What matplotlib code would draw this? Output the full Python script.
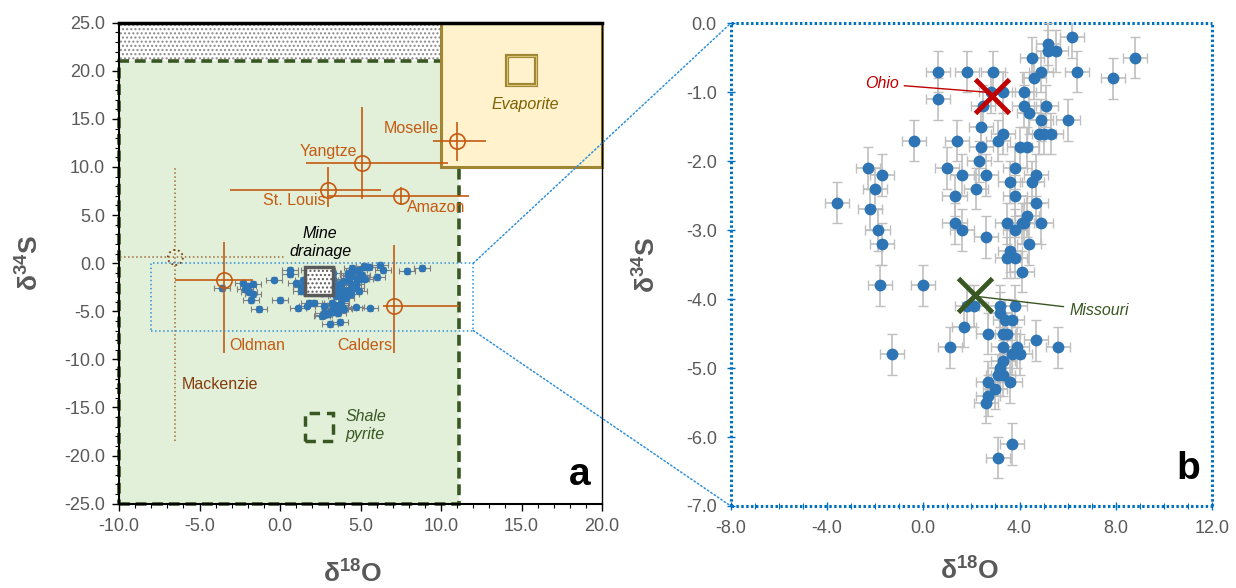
import matplotlib
matplotlib.use('Agg')
import matplotlib.pyplot as plt
from matplotlib.patches import Rectangle, Ellipse, ConnectionPatch
from matplotlib.ticker import MultipleLocator, FormatStrFormatter

plt.rcParams['font.family'] = ['Liberation Sans', 'DejaVu Sans']
plt.rcParams['mathtext.fontset'] = 'custom'
plt.rcParams['mathtext.rm'] = 'Liberation Sans'
plt.rcParams['mathtext.bf'] = 'Liberation Sans:bold'
plt.rcParams['mathtext.it'] = 'Liberation Sans:italic'
plt.rcParams['axes.unicode_minus'] = False

# --- mine drainage samples (same points in both panels) ---
d18o = [6.2, 5.2, 5.2, 5.5, 4.5, 8.8, 0.6, 1.8, 2.9, 4.9, 6.4, 4.6, 7.9,
        2.8, 3.3, 4.2, 0.6, 2.5, 4.2, 5.1, 4.4, 4.9, 6.0, 2.4, 3.3, 4.8,
        5.0, 5.3, -0.4, 1.4, 3.1, 2.4, 4.0, 4.3, 2.3, -2.3, 1.0, 3.8, -1.7,
        1.6, 2.6, 4.7, 3.6, 4.5, -2.0, 2.2, 1.3, 3.8, -3.6, 4.7, -2.2, 4.3,
        1.3, 3.5, 4.1, 4.2, 4.9, -1.9, 1.6, 3.8, 2.6, -1.7, 4.4, 3.6, 3.5,
        3.8, 4.1, -1.8, 0.0, 1.8, 2.1, 3.2, 3.8, 3.2, 3.4, 3.7, 1.7, 2.7,
        3.3, 3.5, 4.7, 1.1, 3.3, 3.9, 5.6, -1.3, 3.7, 4.0, 3.3, 3.2, 3.1,
        3.3, 2.7, 3.6, 3.0, 2.7, 2.6, 3.7, 3.1]
d34s = [-0.2, -0.3, -0.4, -0.4, -0.5, -0.5, -0.7, -0.7, -0.7, -0.7, -0.7,
        -0.8, -0.8, -1.0, -1.0, -1.0, -1.1, -1.2, -1.2, -1.2, -1.3, -1.4,
        -1.4, -1.5, -1.6, -1.6, -1.6, -1.6, -1.7, -1.7, -1.7, -1.8, -1.8,
        -1.8, -2.0, -2.1, -2.1, -2.1, -2.2, -2.2, -2.2, -2.2, -2.3, -2.3,
        -2.4, -2.4, -2.5, -2.5, -2.6, -2.6, -2.7, -2.8, -2.9, -2.9, -2.9,
        -2.9, -2.9, -3.0, -3.0, -3.0, -3.1, -3.2, -3.2, -3.3, -3.4, -3.4,
        -3.6, -3.8, -3.8, -4.1, -4.1, -4.1, -4.1, -4.2, -4.3, -4.3, -4.4,
        -4.5, -4.5, -4.5, -4.6, -4.7, -4.7, -4.7, -4.7, -4.8, -4.8, -4.8,
        -4.9, -5.0, -5.1, -5.1, -5.2, -5.2, -5.3, -5.4, -5.5, -6.1, -6.3]
d18o_err = 0.5
d34s_err = 0.3

# --- river sulfate (panel a) ---
river_names = ['Moselle', 'Yangtze', 'St. Louis', 'Amazon', 'Oldman', 'Calders']
river_x = [11.0, 5.1, 3.0, 7.5, -3.5, 7.1]
river_y = [12.7, 10.4, 7.6, 7.0, -1.7, -4.4]
river_xerr_lo = [1.5, 3.5, 6.1, 4.6, 3.0, 0.7]
river_xerr_hi = [1.8, 5.35, 3.3, 4.25, 1.8, 4.0]
river_yerr_lo = [2.1, 3.7, 1.8, 0.9, 7.6, 4.9]
river_yerr_hi = [2.0, 5.8, 2.4, 0.9, 3.9, 6.3]

mack_x, mack_y = -6.5, 0.6
mack_xerr = [3.45, 6.9]
mack_yerr = [19.1, 9.3]

# --- marked rivers in panel b ---
ohio_x, ohio_y = 2.85, -1.05
missouri_x, missouri_y = 2.15, -3.94

ORANGE = '#C55A11'
GREEN = '#385723'
BLUE = '#2E75B6'
GRAY = '#595959'
ZBLUE = '#2F8FD8'

fig = plt.figure(figsize=(12.36, 5.88), dpi=100)
ax_a = fig.add_axes([0.0963, 0.1434, 0.3908, 0.818])
ax_b = fig.add_axes([0.5912, 0.1395, 0.3894, 0.8209])

b_xlim = (-8, 12)
b_ylim = (-7, 0)

# ================= panel a =================
ax_a.add_patch(Rectangle((-10, 21), 21.1, 4, facecolor='white', edgecolor='#8a8a8a',
                         hatch='....', lw=0, zorder=0.5))
ax_a.add_patch(Rectangle((-10, -25), 21.1, 46, facecolor='#E2F0D9', edgecolor=GREEN,
                         lw=2.6, ls=(0, (3, 1.6)), zorder=1, clip_on=False))
ax_a.add_patch(Rectangle((10, 10), 10, 15, facecolor='#FFF2CC', edgecolor='#9E8633',
                         lw=2.2, zorder=2, clip_on=False))
ax_a.add_patch(Rectangle((14.1, 18.5), 1.8, 3.0, facecolor='#FFF2CC', edgecolor='#9E8633',
                         lw=3, zorder=3))
ax_a.add_patch(Rectangle((14.1, 18.5), 1.8, 3.0, facecolor='none', edgecolor='#D9C27A',
                         lw=0.8, zorder=3))
ax_a.text(15.2, 16.5, 'Evaporite', style='italic', color='#7F6000', fontsize=11.5,
          ha='center', va='center', zorder=3)

ax_a.errorbar(d18o, d34s, xerr=d18o_err, yerr=d34s_err, fmt='o', ms=4.5, color=BLUE,
              ecolor='#7F7F7F', elinewidth=0.8, capsize=2, capthick=0.8, zorder=4)

ax_a.add_patch(Rectangle((1.58, -3.29), 1.74, 2.94, facecolor='white', edgecolor=GRAY,
                         hatch='....', lw=2.5, zorder=5))
ax_a.text(2.5, 2.2, 'Mine\ndrainage', style='italic', color='black', fontsize=11.5,
          ha='center', va='center', linespacing=1.25, zorder=5)

ax_a.add_patch(Rectangle((1.54, -18.47), 1.74, 2.94, facecolor='none', edgecolor=GREEN,
                         lw=2.5, ls=(0, (3, 2)), zorder=5))
ax_a.text(4.08, -16.9, 'Shale\npyrite', style='italic', color=GREEN, fontsize=11.5,
          ha='left', va='center', linespacing=1.25, zorder=5)

label_pos = [(9.9, 14.0, 'right'), (3.0, 11.6, 'center'), (2.8, 6.5, 'right'),
             (7.9, 5.8, 'left'), (-3.15, -8.6, 'left'), (6.95, -8.6, 'right')]
for i, name in enumerate(river_names):
    ax_a.errorbar(river_x[i], river_y[i],
                  xerr=[[river_xerr_lo[i]], [river_xerr_hi[i]]],
                  yerr=[[river_yerr_lo[i]], [river_yerr_hi[i]]],
                  fmt='o', mfc='none', mec=ORANGE, ms=11, mew=1.2,
                  ecolor=ORANGE, elinewidth=1.2, capsize=0, zorder=6)
    lx, ly, ha = label_pos[i]
    ax_a.text(lx, ly, name, color=ORANGE, fontsize=11.5, ha=ha, va='center', zorder=6)

mk = ax_a.errorbar(mack_x, mack_y, xerr=[[mack_xerr[0]], [mack_xerr[1]]],
                   yerr=[[mack_yerr[0]], [mack_yerr[1]]], fmt='none',
                   ecolor='#9E6A3B', elinewidth=1.1, capsize=0, zorder=6)
for lc in mk[2]:
    lc.set_linestyle(':')
ax_a.add_patch(Ellipse((mack_x, mack_y), 0.93, 1.56, fill=False, edgecolor='#843C0C',
                       ls=':', lw=1.3, zorder=6))
ax_a.text(-6.1, -12.6, 'Mackenzie', color='#843C0C', fontsize=11.5, ha='left',
          va='center', zorder=6)

ax_a.add_patch(Rectangle((b_xlim[0], b_ylim[0]), b_xlim[1] - b_xlim[0], b_ylim[1] - b_ylim[0],
                         fill=False, edgecolor=ZBLUE, ls=':', lw=1.1, zorder=7))
ax_a.text(18.6, -22.0, 'a', fontsize=28, fontweight='bold', ha='center', va='center', zorder=8)

ax_a.set_xlim(-10, 20)
ax_a.set_ylim(-25, 25)
ax_a.xaxis.set_major_locator(MultipleLocator(5))
ax_a.xaxis.set_minor_locator(MultipleLocator(1))
ax_a.yaxis.set_major_locator(MultipleLocator(5))
ax_a.yaxis.set_minor_locator(MultipleLocator(1))
ax_a.xaxis.set_major_formatter(FormatStrFormatter('%.1f'))
ax_a.yaxis.set_major_formatter(FormatStrFormatter('%.1f'))
ax_a.tick_params(which='major', direction='out', length=5, width=1, labelsize=13,
                 labelcolor=GRAY, pad=5)
ax_a.tick_params(which='minor', direction='out', length=3, width=0.8)
for s in ['left', 'bottom']:
    ax_a.spines[s].set_linewidth(1.5)
ax_a.spines['top'].set_linewidth(2.5)
ax_a.spines['right'].set_linewidth(1)

# ================= panel b =================
ax_b.errorbar(d18o, d34s, xerr=d18o_err, yerr=d34s_err, fmt='o', ms=7.5, color=BLUE,
              ecolor='#BFBFBF', elinewidth=1.2, capsize=3.5, capthick=1.0, zorder=3)

ax_b.plot(ohio_x, ohio_y, marker='x', ms=24, mew=3.5, color='#C00000', ls='none', zorder=5)
ax_b.annotate('Ohio', xy=(ohio_x - 0.2, ohio_y + 0.05), xytext=(-1.72, -0.88),
              style='italic', color='#C00000', fontsize=11.5, ha='center', va='center',
              arrowprops=dict(arrowstyle='-', color='#C00000', lw=1, shrinkA=2, shrinkB=0),
              zorder=5)
ax_b.plot(missouri_x, missouri_y, marker='x', ms=24, mew=3.5, color=GREEN, ls='none', zorder=5)
ax_b.annotate('Missouri', xy=(missouri_x + 0.05, missouri_y - 0.02), xytext=(7.3, -4.17),
              style='italic', color=GREEN, fontsize=11.5, ha='center', va='center',
              arrowprops=dict(arrowstyle='-', color=GREEN, lw=1, shrinkA=2, shrinkB=0),
              zorder=5)
ax_b.text(11.0, -6.47, 'b', fontsize=28, fontweight='bold', ha='center', va='center', zorder=6)

ax_b.set_xlim(*b_xlim)
ax_b.set_ylim(*b_ylim)
ax_b.xaxis.set_major_locator(MultipleLocator(4))
ax_b.xaxis.set_minor_locator(MultipleLocator(1))
ax_b.yaxis.set_major_locator(MultipleLocator(1))
ax_b.xaxis.set_major_formatter(FormatStrFormatter('%.1f'))
ax_b.yaxis.set_major_formatter(FormatStrFormatter('%.1f'))
ax_b.tick_params(which='major', direction='inout', length=6, width=1, color='#0070C0',
                 labelsize=13, labelcolor=GRAY, pad=7)
ax_b.tick_params(which='minor', direction='inout', length=4, width=0.8, color='#0070C0')
for s in ax_b.spines.values():
    s.set_linestyle((0, (0.8, 0.8)))
    s.set_linewidth(2.2)
    s.set_capstyle('butt')
    s.set_edgecolor('#0070C0')

# axis titles
for ax, xc, yc, ylc in [(ax_a, 0.484, -0.146, -0.184), (ax_b, 0.497, -0.135, -0.174)]:
    ax.set_xlabel('δ$^{\\mathbf{18}}$O', fontsize=19, fontweight='bold', color=GRAY)
    ax.set_ylabel('δ$^{\\mathbf{34}}$S', fontsize=19, fontweight='bold', color=GRAY)
    ax.xaxis.set_label_coords(xc, yc)
    ax.yaxis.set_label_coords(ylc, 0.5)
    ax.xaxis.label.set_va('center')
    ax.yaxis.label.set_va('center')

# zoom connectors
for yy in b_ylim:
    con = ConnectionPatch(xyA=(b_xlim[1], yy), coordsA=ax_a.transData,
                          xyB=(b_xlim[0], yy), coordsB=ax_b.transData,
                          color=ZBLUE, ls=':', lw=1.1)
    fig.add_artist(con)

fig.savefig('out.png', dpi=100)
